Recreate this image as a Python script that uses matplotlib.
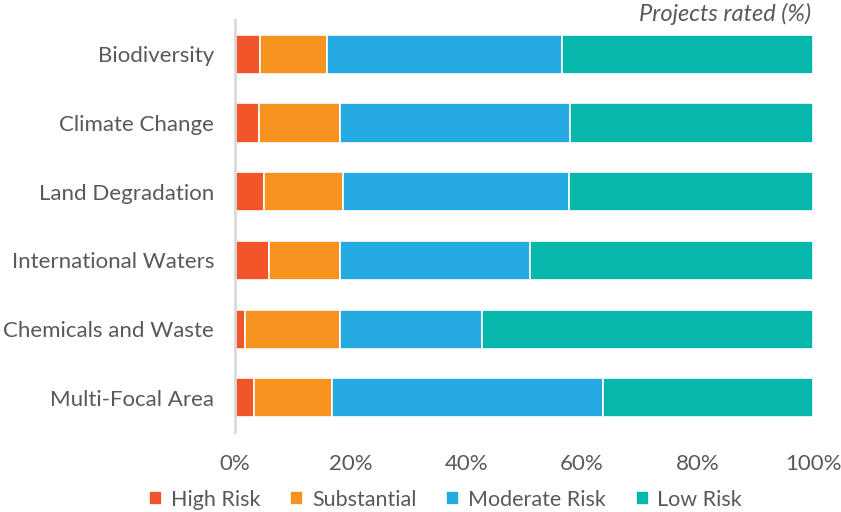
import matplotlib
matplotlib.use("Agg")
from matplotlib import pyplot as plt
from matplotlib.ticker import PercentFormatter

plt.rcParams['font.family'] = ['Lato', 'DejaVu Sans']

categories = ['Biodiversity', 'Climate Change', 'Land Degradation',
              'International Waters', 'Chemicals and Waste', 'Multi-Focal Area']
high_risk = [4.4, 4.2, 5.1, 5.9, 1.8, 3.3]
substantial = [11.5, 14.0, 13.6, 12.3, 16.4, 13.4]
moderate_risk = [40.6, 39.7, 39.0, 32.8, 24.6, 47.0]
low_risk = [43.5, 42.1, 42.3, 49.0, 57.2, 36.3]

series = [('High Risk', high_risk, '#F25529'),
          ('Substantial', substantial, '#F6931F'),
          ('Moderate Risk', moderate_risk, '#24A9E1'),
          ('Low Risk', low_risk, '#08B7AB')]

text_color = '#595959'

fig = plt.figure(figsize=(8.41, 5.12), dpi=100)
ax = fig.add_axes([0.2794, 0.156, 0.6876, 0.805])

ys = list(range(len(categories)))
left = [0] * len(categories)
for name, vals, color in series:
    ax.barh(ys, vals, left=left, height=0.57, color=color, label=name,
            edgecolor='white', linewidth=1.2)
    left = [l + v for l, v in zip(left, vals)]

ax.set_ylim(len(categories) - 0.5, -0.5)
ax.set_xlim(0, 100)
ax.set_yticks(ys)
ax.set_yticklabels(categories, fontsize=16, color=text_color)
ax.set_xticks([0, 20, 40, 60, 80, 100])
ax.xaxis.set_major_formatter(PercentFormatter(decimals=0))
ax.tick_params(axis='x', labelsize=16, labelcolor=text_color, length=0, pad=16)
ax.tick_params(axis='y', length=0, pad=15)

for s in ['top', 'right', 'bottom']:
    ax.spines[s].set_visible(False)
ax.spines['left'].set_color('#D9D9D9')
ax.spines['left'].set_linewidth(2)

fig.text(0.964, 0.972, 'Projects rated (%)', ha='right', va='center',
         fontsize=17, style='italic', color=text_color)

fig.legend(loc='lower center', bbox_to_anchor=(0.53, -0.033), ncol=4,
           frameon=False, fontsize=15.5, labelcolor=text_color,
           handlelength=0.6, handleheight=0.6, handletextpad=0.4,
           columnspacing=1.4)

fig.savefig('out.png', dpi=100)
